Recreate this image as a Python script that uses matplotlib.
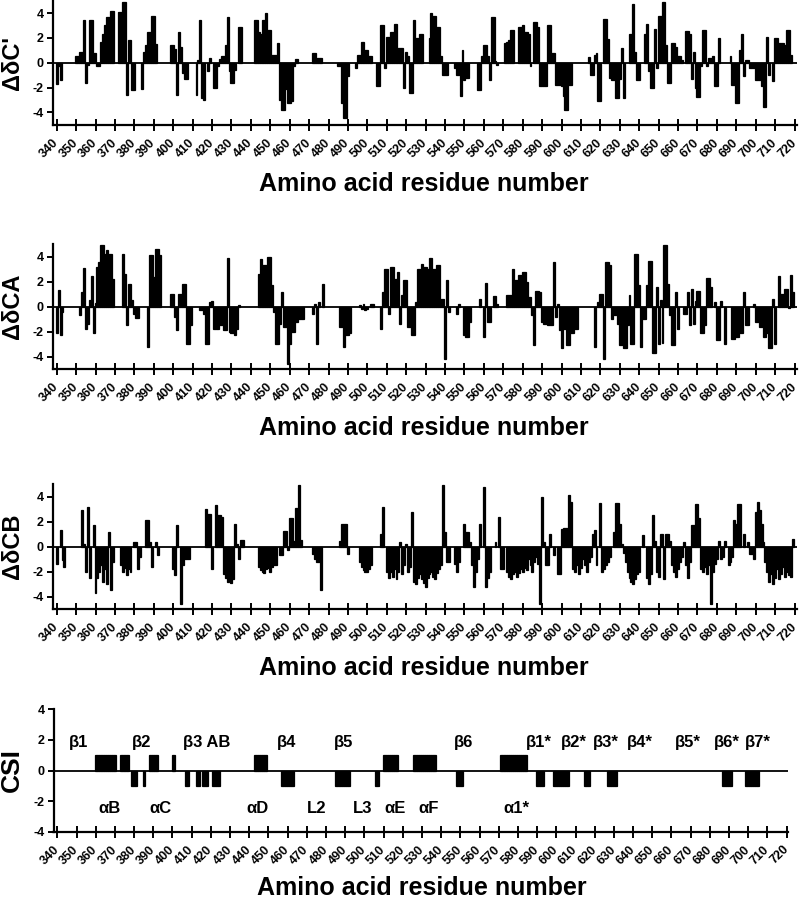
import numpy as np
import matplotlib
matplotlib.use("Agg")
import matplotlib.pyplot as plt

plt.rcParams['font.family'] = ['Liberation Sans', 'DejaVu Sans']
plt.rcParams['font.weight'] = 'bold'

residues = np.arange(340, 721)
tick_values = list(range(340, 721, 10))

delta_cprime = [
    -1.7, -0.3, -1.4, 0, 0, 0, 0, 0, 0, 0,
    0.5, 0.5, 0.9, 0.9, 3.4, -1.65, -0.2, 3.4, 3.4, 0.75,
    0.75, -0.3, -0.3, 1.7, 2.3, 3.0, 3.7, 3.7, 4.2, 4.2,
    0, 0, 4.1, 4.1, 4.9, 4.9, -2.6, 1.8, 1.8, -2.2,
    -2.2, 0, 0, 0, -2.1, 0.9, 1.4, 2.5, 2.5, 3.8,
    3.8, 1.5, 0, 0, 0, 0, 0, 0, 0, 1.4,
    1.4, 1.1, -2.6, 2.5, 1.3, -0.85, -1.3, -1.3, 0, 0,
    0, 0, -2.6, 0.2, 3.4, -2.85, -3.0, 0, -0.7, 0.35,
    0, -2.0, -2.0, -0.3, 0.3, 0.5, 0.5, 1.4, 3.7, -0.7,
    -1.6, -1.6, -0.6, 0, 2.9, 2.9, 0, 0, 0, 0,
    0, 0, 3.4, 3.4, 2.5, 2.3, 3.4, 3.4, 4.0, 2.6,
    2.6, 0.6, 0.6, 0.6, 1.6, -3.0, -3.8, -3.8, -2.1, -3.25,
    -3.25, -3.1, -0.3, 0.3, 0.3, 0, 0, 0, 0, 0,
    0, 0, 0.75, 0.75, 0.35, 0.35, 0.35, 0, 0, 0,
    0, 0, 0, 0, 0, -0.3, -0.3, -3.25, -4.45, -4.45,
    -1.1, 0, 0, 0, -0.45, 0.6, 0.6, 1.7, 1.7, 1.0,
    1.0, 0.5, 0.5, 0, 0, -1.9, -1.9, 3.0, 3.0, -0.45,
    2.1, 2.1, 2.5, 2.5, 3.1, 3.1, 1.15, 1.15, 1.15, -2.0,
    0.9, 0.5, -2.4, -2.4, 3.4, 1.95, 1.95, 2.3, 2.3, 0,
    0, 0, 1.95, 4.0, 3.8, 3.8, 2.9, 2.9, 0.5, -1.0,
    -1.0, -1.0, 0, 0, 0, -0.45, -1.0, -1.0, -2.7, 1.05,
    -1.4, -1.25, -1.25, 0, 0, 0, 0, -2.2, -2.2, 0.5,
    1.4, 1.4, 0.5, -1.4, 3.7, 3.7, 0.1, -0.2, 0, 0,
    0, 1.6, 1.7, 1.8, 2.6, 2.6, 0, 0, 2.9, 2.9,
    3.0, 2.5, 2.5, 2.3, -0.3, 0, 3.3, 3.3, 2.9, -1.9,
    -1.9, -1.9, -1.9, 3.0, 3.0, 0.75, 0.75, -1.8, -1.8, -1.8,
    -1.9, -2.7, -3.8, -3.8, -1.8, -1.8, 0, 0, 0, 0,
    0, 0, 0, 0, 0.45, -1.0, -1.0, 0.6, 0.75, -3.1,
    -3.1, 0, 3.5, 3.5, 1.9, -1.25, -1.4, -1.4, -2.85, -2.85,
    -1.3, 1.2, -2.85, 0, 0, 2.3, 2.3, 4.75, 0.9, -1.4,
    -1.4, 0, 0, 2.3, 3.1, -0.7, -2.0, -2.0, 2.75, -0.45,
    3.8, 3.8, 4.9, 4.9, 1.4, -1.65, -1.65, 1.6, 1.6, 1.3,
    0.55, 0.55, 0.2, 0, 2.55, 2.55, 2.3, -1.3, 0.9, -2.05,
    -2.8, -2.8, -0.3, 2.6, 2.6, -0.25, 0.35, 0.35, 0.5, -1.9,
    -1.9, 1.95, 0, 0, 0, 0, 0, 0.5, -1.8, -1.8,
    -3.25, -3.25, 1.0, 2.3, -1.05, 0.25, 0.25, -0.45, -0.45, -0.45,
    -1.4, -1.4, -1.4, -1.9, -3.55, -3.55, 2.1, -1.0, 0, -1.5,
    2.0, 2.0, 1.55, 1.55, 1.55, 1.4, 2.6, 2.6, 0.6, 0,
    0,
]

delta_ca = [
    -2.1, 1.3, -2.3, -0.4, 0, 0, 0, 0, 0, 0,
    0, 0, -0.65, 1.2, 3.1, -1.75, -1.35, 0.5, 2.45, -2.1,
    0.3, 3.2, 3.6, 4.9, 4.9, 4.25, 4.5, 4.25, 4.25, 2.25,
    0, 0, 0, 0, 4.25, 2.65, -1.5, 1.8, 1.8, 0.5,
    -0.6, -0.9, -0.9, 0, 0, 0, 0, -3.2, 4.1, 4.1,
    2.4, 4.65, 4.65, 4.1, 0, 0, 0, 0, 0, 1.05,
    1.05, -0.8, -1.9, 1.05, 1.05, 1.85, 1.85, -3.0, -3.0, -1.45,
    0, 0, 0, 0, -0.25, -0.25, -0.55, -3.0, -3.0, 0.35,
    0.45, -1.75, -1.75, -1.75, -1.45, -1.45, -1.85, -1.85, 3.9, -2.0,
    -2.1, -2.1, -2.25, -1.75, 0.15, 0, 0, 0, 0, 0,
    0, 0, 0, 0, 2.65, 3.85, 3.3, 3.3, 3.3, 4.0,
    4.0, 1.75, -0.4, -2.95, -2.95, -1.35, 1.2, -1.6, -1.6, -4.6,
    -3.0, -2.0, -2.0, -1.2, -1.2, -0.95, -0.95, -0.95, 0, 0,
    0, 0, -0.55, 0.25, -3.0, 0.35, 0, 1.85, 0, 0,
    0, 0, 0, 0, 0, 0, -1.6, -1.6, -3.2, -2.25,
    -2.25, -2.1, 0, 0, 0, 0, 0.15, -0.15, 0.2, -0.25,
    -0.2, 0, 0.2, 0.2, 0, 0, 0, -1.75, 1.15, 3.05,
    3.05, -0.55, 3.2, 3.2, 2.25, 2.25, 2.8, -1.35, 0.95, 2.15,
    2.15, -1.6, -1.6, -2.25, -2.25, 0.4, 3.0, 3.0, 3.45, 3.2,
    3.2, 3.05, 3.9, 3.9, 3.05, 3.05, 3.3, 3.3, 0.65, 0.65,
    -4.2, 2.15, -0.4, 0, 0, 0, -0.55, 0.2, 0, 0,
    -2.25, -2.4, -2.4, -1.2, 0, 0, 0, 0, 0.6, 0,
    -2.4, 1.9, -1.2, -1.2, 0, 0.85, 0.85, 0.2, 0, 0,
    0, 0, 0.95, 0.95, 0.95, 3.0, 2.15, 2.15, 2.55, 2.55,
    2.8, 2.8, 2.0, 0.8, 0.8, -0.65, -3.1, 1.25, 1.25, 1.2,
    -1.2, -1.35, -1.35, -1.45, -1.45, -1.45, 3.6, -0.8, 0.25, -1.85,
    -3.3, -1.75, -1.75, -3.1, -3.1, -2.1, -2.1, -1.75, -1.75, 0,
    0, 0, 0, 0, 0, 0, 0, -3.2, 0, 0.35,
    1.05, 1.05, -4.2, 3.6, 3.6, 3.3, -0.95, -0.65, -0.65, -1.35,
    -3.1, -3.1, -3.3, -3.3, -1.45, 0.95, -3.0, -3.0, 4.2, 4.2,
    1.75, -3.2, -0.95, -0.95, 1.75, 3.65, 3.65, -3.7, -3.7, 1.6,
    -3.0, 0.55, -2.9, 4.9, 4.9, 1.85, -0.65, -3.1, -3.1, 1.15,
    -1.75, 0, 0, -0.55, -0.55, 1.15, -1.45, 1.45, -1.35, 0.45,
    1.25, 1.25, -2.1, -2.1, -1.45, 2.3, 2.3, 1.6, 0, 0.35,
    -2.65, -2.65, 0.45, 0, -3.0, 0, 0, 0, -2.55, -2.55,
    -2.4, -2.4, -2.1, -2.1, 1.15, -1.45, -1.45, 0, 0, 0.25,
    -1.2, -1.2, -1.6, -1.6, -2.4, -2.4, -2.1, -3.3, -3.3, 0.65,
    -3.0, 0, 2.45, 1.0, 1.0, 1.45, 1.45, -0.1, 2.55, 1.2,
    0,
]

delta_cb = [
    -1.4, 0, 1.35, -1.05, -1.6, 0, 0, 0, 0, 0,
    0, 0, 0, 2.95, 0.25, -2.0, 3.2, -2.5, 0, 1.7,
    -3.7, -2.5, -2.0, -1.5, -2.8, -1.8, -3.0, 1.2, -3.5, -1.2,
    0, 0, 0, -1.5, -2.0, -1.7, -2.3, -1.8, -2.0, 0,
    0.4, 0.4, -1.8, -0.8, 0, 0, 2.15, 2.15, 0.4, -1.6,
    0, 0.35, -0.7, 0, 0, 0, 0, 0, 0, 0,
    -1.8, -2.3, 1.7, 0, -4.6, -1.5, -0.95, -0.95, -0.95, 0,
    0, 0, 0, 0, 0, 0, 0, 3.05, 2.6, 2.6,
    -1.8, 0, 3.3, 2.55, 2.55, 2.4, -2.2, -2.5, -2.8, -2.7,
    -2.9, -2.6, 1.8, 0.25, -1.0, 0.55, 0.55, 0, 0, 0,
    0, 0, 0, 0, -1.6, -1.9, -2.0, -2.1, -1.8, -1.7,
    -2.0, -1.6, -1.5, -1.5, 0, -0.65, -0.65, 1.25, 1.25, -0.3,
    2.3, 2.3, 0.45, 3.1, 3.1, 4.9, 0.5, 0, 0, 0,
    0, 0, -0.6, -1.0, -1.2, -1.2, -3.5, 0, 0, 0,
    0, 0, 0, 0, 0, 0, 0.45, 1.85, 1.85, 1.85,
    -0.55, 0, 0, 0, 0, 0, -1.2, -1.6, -1.9, -2.0,
    -2.0, -1.8, -1.5, 0, 0, 0, 0, 1.05, 3.2, 0,
    -2.0, -2.5, -2.0, -2.4, -1.8, -2.6, -2.0, 0.35, -2.2, -1.5,
    0.2, -2.0, -1.6, 2.75, -2.8, -3.0, -2.5, -2.2, -2.6, -2.9,
    -3.2, -2.5, -2.2, -2.0, -2.4, -2.6, -2.1, -1.8, -1.5, 4.9,
    1.2, -1.2, -1.2, 0, 0, -1.4, -2.0, -1.2, 0, 0,
    1.8, 1.2, 1.2, 0.35, -1.5, -3.2, -2.0, -1.0, 1.85, 0,
    4.8, -3.2, -2.5, -2.0, 0, 0, 0.35, 0, 2.4, -1.8,
    -1.8, 0, -2.0, -2.4, -2.6, -2.2, -2.0, -2.4, -2.1, -1.8,
    -2.0, -1.7, -1.9, -1.0, -1.5, -2.0, -1.2, -0.8, -1.4, -4.6,
    4.0, 0.35, -1.5, -1.5, 1.05, 0, -0.65, 0, -2.2, -2.2,
    1.45, 1.5, 1.5, 1.5, 4.15, 3.6, -1.8, -2.0, -1.5, -2.2,
    -1.7, -1.0, -1.5, -2.0, -1.2, -0.8, 1.05, 1.35, -1.5, 0,
    3.5, -2.0, -1.8, -1.5, -1.2, -0.8, 0, 1.2, 3.5, 3.5,
    1.85, 0.25, -0.5, -1.2, -2.0, -2.5, -2.8, -3.0, -2.6, -2.2,
    -2.0, 0, 0.95, 0, -2.5, -3.0, -2.2, 2.55, 0.45, -2.0,
    -2.4, 1.0, 1.0, -2.6, 1.0, 1.0, 0.45, -1.5, -2.0, -2.4,
    -1.8, -1.2, -0.8, 0.35, -1.5, -2.5, -1.2, 1.7, 1.7, 3.4,
    3.4, 2.3, -1.8, -2.0, -1.6, -2.2, -1.5, -4.6, -2.0, -1.4,
    -1.0, 0.45, -1.0, -0.8, 0.45, 0, -1.5, -1.2, -0.8, 2.15,
    1.8, 3.4, 3.4, 0, 1.0, 0, 0.35, -0.6, -0.6, -1.0,
    2.8, 3.6, 2.95, 1.85, 0.4, -1.2, -2.0, -2.8, -2.2, -3.0,
    -2.5, -1.8, -2.6, -2.2, -1.6, -2.4, -2.0, -2.3, -2.4, 0.6,
    0,
]

# CSI secondary-structure segments (start residue, end residue, index)
csi_start = [360, 373, 379, 385, 388, 400, 407, 413, 416, 421, 443, 457, 485, 506,
             510, 526, 548, 571, 590, 599, 615, 627, 687, 699]
csi_end = [370, 377, 381, 385, 392, 401, 408, 414, 418, 424, 449, 463, 492, 507,
           517, 537, 551, 584, 593, 606, 617, 631, 691, 705]
csi_value = [1, 1, -1, -1, 1, 1, -1, -1, -1, -1, 1, -1, -1, -1,
             1, 1, -1, 1, -1, -1, -1, -1, -1, -1]

top_labels = ["β1", "β2", "β3 AB", "β4", "β5", "β6", "β1*", "β2*", "β3*", "β4*",
              "β5*", "β6*", "β7*"]
top_pos = [351, 384, 418, 459.6, 489.3, 551.6, 590.7, 609.3, 625.9, 643.5,
           668.3, 688.8, 704.8]
bottom_labels = ["αB", "αC", "αD", "L2", "L3", "αE", "αF", "α1*"]
bottom_pos = [367.3, 393.6, 444.5, 475, 499.2, 516, 533.4, 579.4]

assert len(delta_cprime) == len(residues)
assert len(delta_ca) == len(residues)
assert len(delta_cb) == len(residues)

W, H = 800, 899
fig = plt.figure(figsize=(W / 100, H / 100), dpi=100)


def rect(left_px, top_px, right_px, bottom_px):
    return [left_px / W, 1 - bottom_px / H, (right_px - left_px) / W,
            (bottom_px - top_px) / H]


def style_axis(ax, yt):
    for s in ['top', 'right']:
        ax.spines[s].set_visible(False)
    for s in ['left', 'bottom']:
        ax.spines[s].set_linewidth(1.6)
    ax.set_xticks(tick_values)
    ax.set_xticklabels([str(t) for t in tick_values], rotation=45, ha='right',
                       va='center', rotation_mode='anchor', fontsize=9,
                       fontweight='bold')
    ax.tick_params(axis='x', direction='inout', length=9, width=1.4, pad=7)
    ax.set_yticks(yt)
    ax.set_yticklabels([str(t) for t in yt], fontsize=9, fontweight='bold')
    ax.tick_params(axis='y', direction='out', length=4.5, width=1.4, pad=2)


panels = [
    (delta_cprime, "ΔδC'", 0.6, 124.8, 184),
    (delta_ca, "ΔδCA", 244.2, 369.2, 428),
    (delta_cb, "ΔδCB", 484.2, 609.2, 668),
]

for vals, ylab, top, bot, xlab_y in panels:
    ax = fig.add_axes(rect(52.8, top, 796.5, bot))
    v = np.array(vals, dtype=float)
    m = v != 0
    ax.bar(residues[m], v[m], width=1.0, color='black', edgecolor='black',
           linewidth=0.9)
    ax.axhline(0, color='black', lw=1.3)
    ax.set_xlim(338, 721)
    ax.set_ylim(-5, 5)
    style_axis(ax, [-4, -2, 0, 2, 4])
    fig.text(424 / W, 1 - xlab_y / H, "Amino acid residue number",
             ha='center', va='center', fontsize=18, fontweight='bold')
    fig.text(13 / W, 1 - (top + bot) / 2 / H, ylab, rotation=90, ha='center',
             va='center', fontsize=17, fontweight='bold')

# CSI panel
ax = fig.add_axes(rect(53.5, 709.3, 787.6, 831.7))
csi = np.zeros(len(residues))
for s, e, val in zip(csi_start, csi_end, csi_value):
    csi[(residues >= s) & (residues <= e)] = val
m = csi != 0
ax.bar(residues[m], csi[m], width=1.0, color='black', edgecolor='black',
       linewidth=0.9)
ax.axhline(0, color='black', lw=1.3)
ax.set_xlim(338, 720.5)
ax.set_ylim(-4, 4)
style_axis(ax, [-4, -2, 0, 2, 4])
for lab, x in zip(top_labels, top_pos):
    ax.text(x, 1.85, lab, ha='center', va='center', fontsize=12,
            fontweight='bold')
for lab, x in zip(bottom_labels, bottom_pos):
    ax.text(x, -2.5, lab, ha='center', va='center', fontsize=12,
            fontweight='bold')
fig.text(422 / W, 1 - 888 / H, "Amino acid residue number",
         ha='center', va='center', fontsize=18, fontweight='bold')
fig.text(12 / W, 1 - 770 / H, "CSI", rotation=90, ha='center', va='center',
         fontsize=19, fontweight='bold')

fig.savefig("out.png", dpi=100)
